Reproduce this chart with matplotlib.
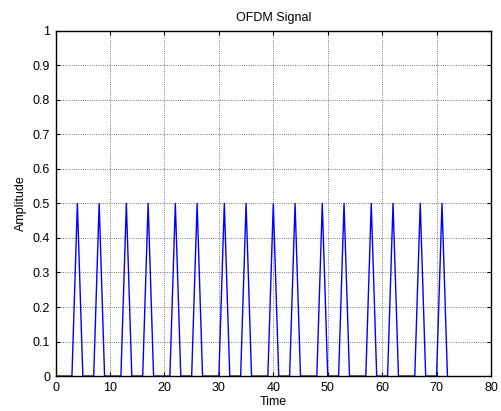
import numpy as np
import matplotlib.pyplot as plt

# sample index and OFDM amplitude (peaks of 0.5, zero elsewhere)
n = np.arange(0, 73)
peak_pos = [4, 8, 13, 17, 22, 26, 31, 35, 40, 44, 49, 53, 58, 62, 67, 71]
peak_val = 0.5
amp = np.zeros(len(n))
amp[peak_pos] = peak_val

plt.rcParams['font.family'] = ['Liberation Sans', 'DejaVu Sans']
plt.rcParams['font.size'] = 9

fig = plt.figure(figsize=(5.01, 4.11), dpi=100)
ax = fig.add_axes([0.111, 0.085, 0.869, 0.84])
ax.plot(n, amp, color='blue', linewidth=1)

ax.set_xlim(0, 80)
ax.set_ylim(0, 1)
ax.set_xticks(np.arange(0, 81, 10))
ax.set_yticks(np.arange(0, 1.01, 0.1))
ax.set_yticklabels(['0', '0.1', '0.2', '0.3', '0.4', '0.5', '0.6', '0.7', '0.8', '0.9', '1'])
ax.grid(True, color='black', linestyle=':', linewidth=0.6, alpha=0.7)
ax.tick_params(direction='in', top=True, right=True, length=3)
ax.tick_params(axis='x', pad=4)
ax.tick_params(axis='y', pad=4)
for s in ax.spines.values():
    s.set_linewidth(1)

ax.set_title("OFDM Signal", fontsize=9, pad=7)
ax.set_xlabel("Time", fontsize=9, labelpad=1.5)
ax.set_ylabel("Amplitude", fontsize=9, labelpad=4)

fig.savefig("out.png", dpi=100)
